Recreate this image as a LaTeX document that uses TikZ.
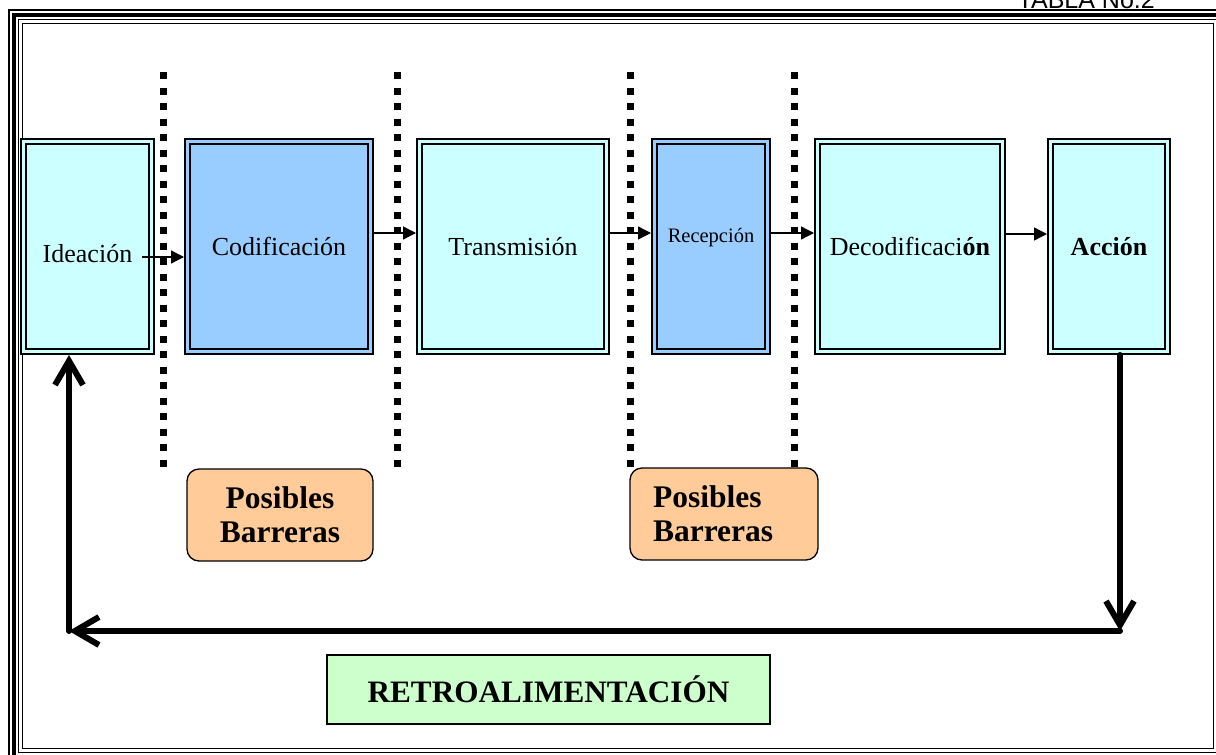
\documentclass[tikz,border=0pt]{standalone}
\usepackage{fontspec}
\setmainfont{Liberation Serif}
\newfontfamily\arialfont{Liberation Sans}
\usetikzlibrary{arrows.meta,calc}

\definecolor{boxcyan}{HTML}{CCFFFF}
\definecolor{boxblue}{HTML}{99CCFF}
\definecolor{boxorange}{HTML}{FFCC99}
\definecolor{boxgreen}{HTML}{CCFFCC}

\tikzset{
  stage/.style={draw=black, line width=2pt, double distance=3pt,
    minimum height=210pt, inner sep=0pt, outer sep=3.5pt,
    font=\fontsize{26}{30}\selectfont},
  cyanstage/.style={stage, fill=boxcyan, double=boxcyan},
  bluestage/.style={stage, fill=boxblue, double=boxblue},
  flow/.style={draw=black, line width=1.3pt, -{Triangle[length=13pt,width=13pt]}},
  feedback/.style={draw=black, line width=6pt, line cap=round,
    -{Straight Barb[length=24pt,width=28pt]}},
  barrier/.style={draw=black, line width=1.3pt, fill=boxorange, rounded corners=12pt,
    minimum height=92pt, font=\bfseries\fontsize{31.5}{34}\selectfont},
  dotline/.style={draw=black, line width=7pt, dash pattern=on 7pt off 8.5pt},
}

\begin{document}
\begin{tikzpicture}[x=1pt, y=-1pt]
\useasboundingbox (0,0) rectangle (1216,755);

% page frame: thin / thick / thin lines around an inner rule
\draw[line width=1.2pt] (9,10) rectangle (1240,770);
\draw[line width=4pt] (14,15) rectangle (1235,766.5);
\draw[line width=1.2pt] (18.5,19.5) rectangle (1218,752.5);
\draw[line width=1.5pt] (22.5,23.5) rectangle (1213.5,748.5);

% table caption, partly off the page
\node[anchor=base east, inner sep=0pt, font=\arialfont\fontsize{25}{30}\selectfont]
  (caption) at (1155,8) {TABLA No.2};

% barrier separators
\draw[dotline] (163,72) -- (163,468);
\draw[dotline] (397,72) -- (397,468);
\draw[dotline] (630,72) -- (630,468);
\draw[dotline] (794,72) -- (794,468);

% stages of the process
\node[cyanstage, minimum width=128pt] (idea)  at (87.5,246.5)
  {\raisebox{-7pt}[\height][\depth]{Ideación}};
\node[bluestage, minimum width=183pt] (cod)   at (279,246.5)  {Codificación};
\node[cyanstage, minimum width=187pt] (trans) at (513,246.5)  {Transmisión};
\node[bluestage, minimum width=113pt] (rec)   at (711,246.5)
  {\fontsize{20.5}{24}\selectfont\raisebox{9pt}[\height][\depth]{Recepción}};
\node[cyanstage, minimum width=185pt] (dec)   at (910,246.5)  {Decodificaci\textbf{ón}};
\node[cyanstage, minimum width=117pt] (acc)   at (1109,246.5) {\textbf{Acción}};

% forward flow
\draw[flow] ([xshift=-13pt,yshift=-10.5pt]idea.east) -- ([yshift=-10.5pt]idea.east -| cod.west);
\draw[flow] ([yshift=13.5pt]cod.east) -- ([yshift=13.5pt]cod.east -| trans.west);
\draw[flow] ([yshift=13.5pt]trans.east) -- ([yshift=13.5pt]trans.east -| rec.west);
\draw[flow] ([yshift=13.5pt]rec.east) -- ([yshift=13.5pt]rec.east -| dec.west);
\draw[flow] ([yshift=12.5pt]dec.east) -- ([yshift=12.5pt]dec.east -| acc.west);

% possible barriers
\node[barrier, minimum width=186pt, align=center] (pb1) at (280,515) {Posibles\\Barreras};
\node[barrier, minimum width=188pt, text width=142pt, inner xsep=23pt, align=left]
  (pb2) at (724,514) {Posibles\\Barreras};

% feedback loop
\coordinate (fr) at (1120,631);
\coordinate (fl) at (69,631);
\draw[feedback] (fr |- acc.south) -- (fr);
\draw[feedback] (fr) -- (fl);
\draw[feedback] (fl) -- (fl |- idea.south);

\node[draw=black, line width=1.3pt, fill=boxgreen, minimum width=443pt, minimum height=69pt,
  font=\bfseries\fontsize{31.2}{34}\selectfont] (retro) at (548.5,689.5) {RETROALIMENTACIÓN};
\end{tikzpicture}
\end{document}
